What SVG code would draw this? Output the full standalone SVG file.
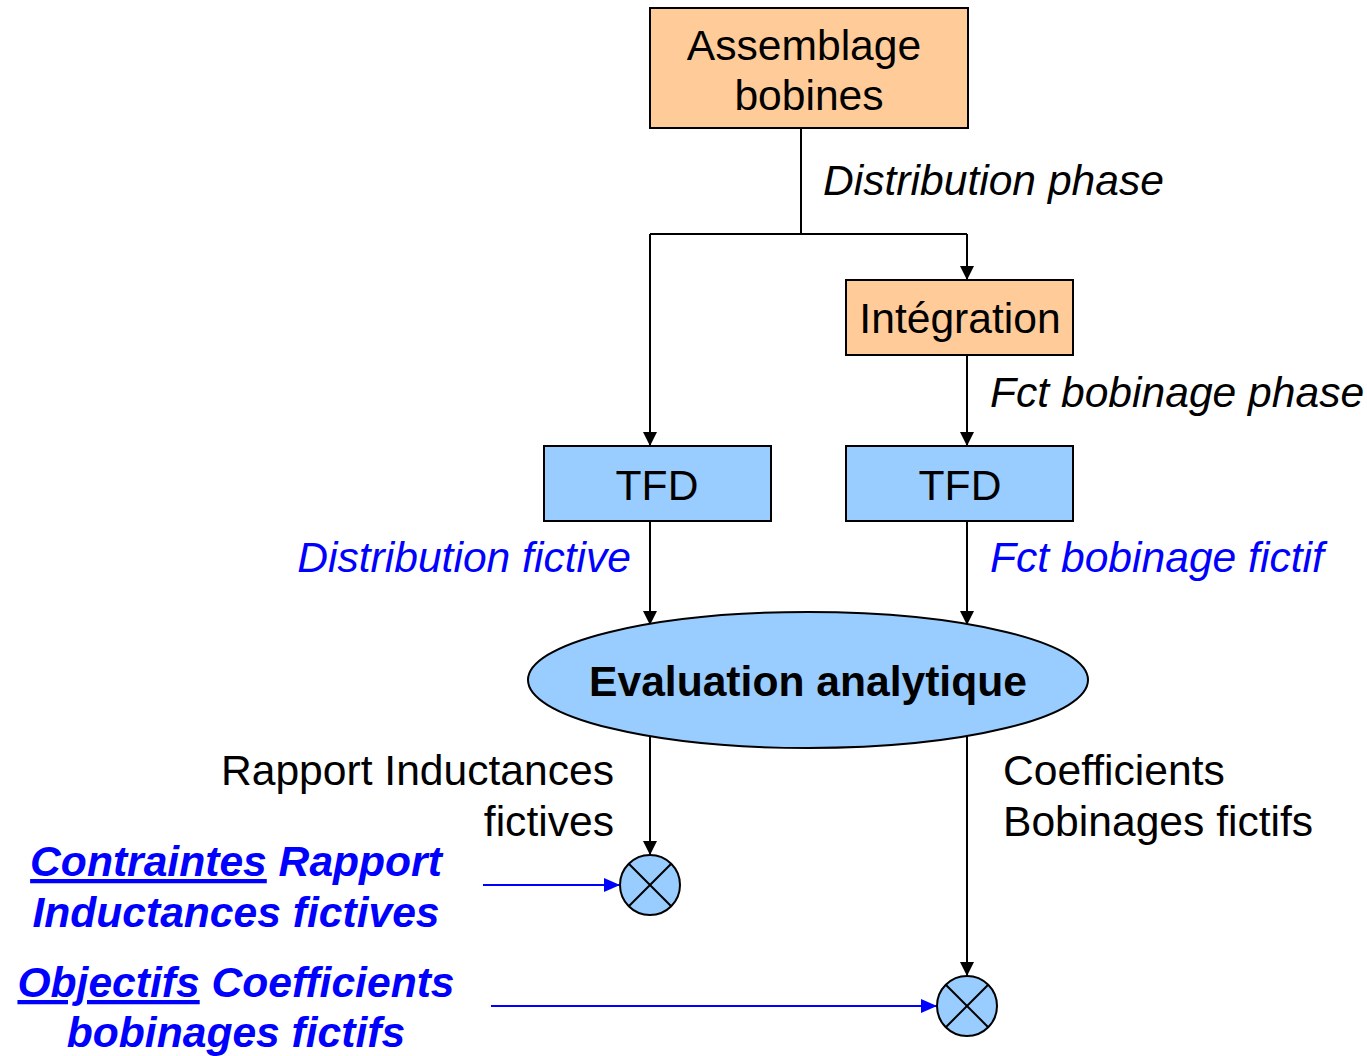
<svg xmlns="http://www.w3.org/2000/svg" width="1367" height="1056" viewBox="0 0 1367 1056">
<style>
.box{stroke:#000;stroke-width:2}
.orange{fill:#FFCC99}
.blue{fill:#99CCFF}
.t{font-family:"Liberation Sans",Arial,sans-serif;font-size:42.6px;fill:#000}
.it{font-style:italic}
.bl{fill:#0000FF}
.bb{font-weight:bold;font-style:italic;fill:#0000FF}
.c{stroke:#000;stroke-width:2;fill:none}
.cb{stroke:#0000FF;stroke-width:2;fill:none}
</style>
<defs>
<marker id="ak" markerUnits="userSpaceOnUse" markerWidth="14" markerHeight="16" refX="14" refY="7" orient="auto"><path d="M0,0 L14,7 L0,14 Z" fill="#000"/></marker>
<marker id="ab" markerUnits="userSpaceOnUse" markerWidth="16" markerHeight="16" refX="16" refY="7" orient="auto"><path d="M0,0 L16,7 L0,14 Z" fill="#0000FF"/></marker>
</defs>
<g id="connectors">
<path class="c" d="M801,128 V234 M650,234 H967"/>
<path class="c" d="M650,234 V446" marker-end="url(#ak)"/>
<path class="c" d="M967,234 V280" marker-end="url(#ak)"/>
<path class="c" d="M967,355 V446" marker-end="url(#ak)"/>
<path class="c" d="M650,521 V625" marker-end="url(#ak)"/>
<path class="c" d="M967,521 V625" marker-end="url(#ak)"/>
<path class="c" d="M650,733 V855" marker-end="url(#ak)"/>
<path class="c" d="M967,733 V976" marker-end="url(#ak)"/>
<path class="cb" d="M483,885 H620" marker-end="url(#ab)"/>
<path class="cb" d="M491,1006 H937" marker-end="url(#ab)"/>
</g>
<g id="assemblage">
<rect class="box orange" x="650" y="8" width="318" height="120"/>
<text class="t" x="804" y="60" text-anchor="middle">Assemblage</text>
<text class="t" x="809" y="110" text-anchor="middle">bobines</text>
</g>
<g id="integration">
<rect class="box orange" x="846" y="280" width="227" height="75"/>
<text class="t" x="960" y="333" text-anchor="middle">Intégration</text>
</g>
<g id="tfd1">
<rect class="box blue" x="544" y="446" width="227" height="75"/>
<text class="t" x="657" y="500" text-anchor="middle">TFD</text>
</g>
<g id="tfd2">
<rect class="box blue" x="846" y="446" width="227" height="75"/>
<text class="t" x="960" y="500" text-anchor="middle">TFD</text>
</g>
<g id="evaluation">
<ellipse class="box blue" cx="808" cy="680" rx="280" ry="68"/>
<text class="t" x="808" y="696" text-anchor="middle" font-weight="bold">Evaluation analytique</text>
</g>
<g id="mult1">
<circle class="box blue" cx="650" cy="885" r="30"/>
<path class="c" d="M628.8,863.8 L671.2,906.2 M671.2,863.8 L628.8,906.2"/>
</g>
<g id="mult2">
<circle class="box blue" cx="967" cy="1006" r="30"/>
<path class="c" d="M945.8,984.8 L988.2,1027.2 M988.2,984.8 L945.8,1027.2"/>
</g>
<g id="labels">
<text class="t it" x="823" y="195">Distribution phase</text>
<text class="t it" x="990" y="407">Fct bobinage phase</text>
<text class="t it bl" x="631" y="572" text-anchor="end">Distribution fictive</text>
<text class="t it bl" x="990" y="572">Fct bobinage fictif</text>
<text class="t" x="614" y="785" text-anchor="end">Rapport Inductances</text>
<text class="t" x="614" y="836" text-anchor="end">fictives</text>
<text class="t" x="1003" y="785">Coefficients</text>
<text class="t" x="1003" y="836">Bobinages fictifs</text>
<text class="t bb" x="236" y="876" text-anchor="middle"><tspan text-decoration="underline">Contraintes</tspan> Rapport</text>
<text class="t bb" x="236" y="927" text-anchor="middle">Inductances fictives</text>
<text class="t bb" x="236" y="997" text-anchor="middle"><tspan text-decoration="underline">Objectifs</tspan> Coefficients</text>
<text class="t bb" x="236" y="1047" text-anchor="middle">bobinages fictifs</text>
</g>
</svg>
